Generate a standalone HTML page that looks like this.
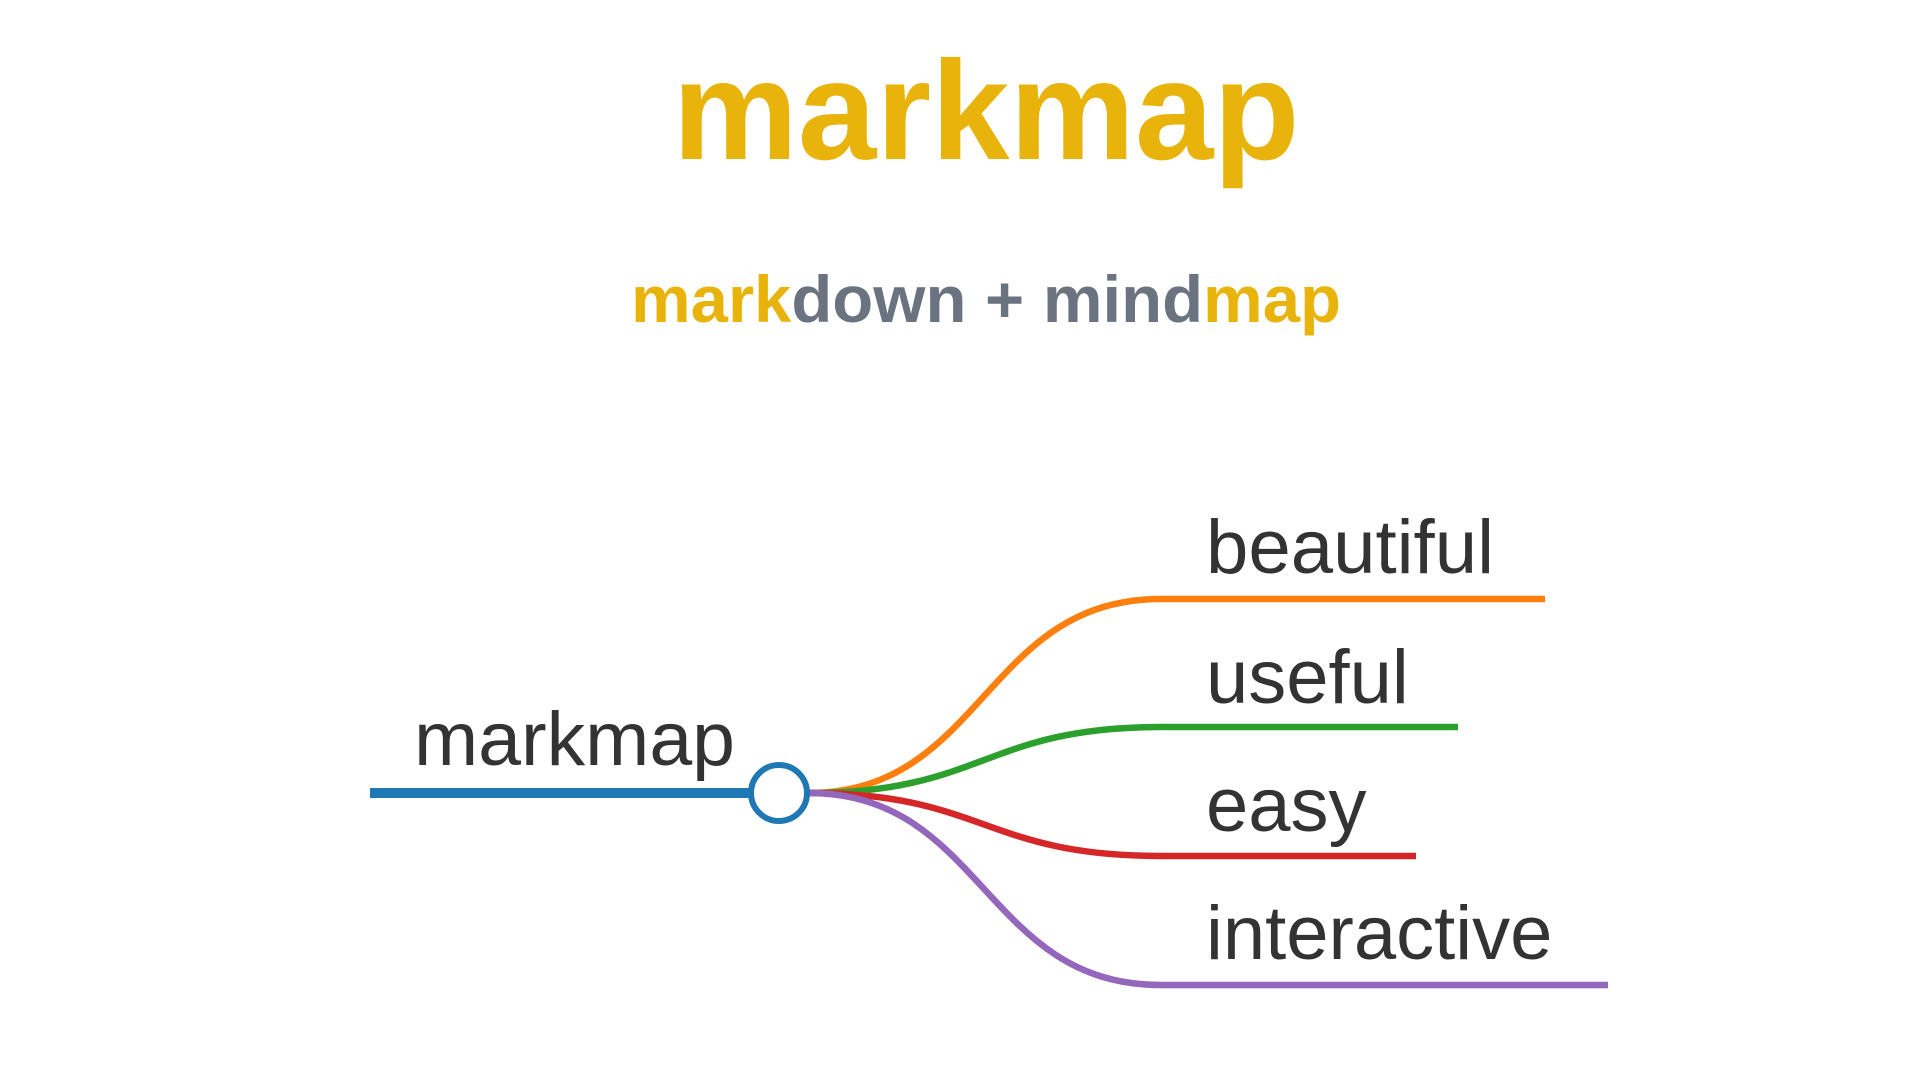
<!DOCTYPE html>
<html><head><meta charset="utf-8"><style>
html,body{margin:0;padding:0;background:#fff;width:1920px;height:1080px;overflow:hidden}
</style></head><body>
<svg width="1920" height="1080" xmlns="http://www.w3.org/2000/svg">
<text x="986" y="159" text-anchor="middle" font-family="Liberation Sans, sans-serif" font-weight="bold" font-size="141" fill="#E8B40B" textLength="627" lengthAdjust="spacingAndGlyphs">markmap</text>
<text x="986" y="322" text-anchor="middle" font-family="Liberation Sans, sans-serif" font-weight="bold" font-size="66" textLength="710" lengthAdjust="spacingAndGlyphs"><tspan fill="#E8B40B">mark</tspan><tspan fill="#6B7280">down + mind</tspan><tspan fill="#E8B40B">map</tspan></text>
<g fill="none" stroke-width="6.5" stroke-linecap="butt">
<path d="M808 793 C984 793 984 599 1161 599 L1545 599" stroke="#FF7F0E"/>
<path d="M808 793 C984 793 984 727 1161 727 L1458 727" stroke="#2CA02C"/>
<path d="M808 793 C984 793 984 856 1161 856 L1416 856" stroke="#D62728"/>
<path d="M808 793 C984 793 984 985 1161 985 L1608 985" stroke="#9467BD"/>
</g>
<line x1="370" y1="793" x2="752" y2="793" stroke="#1F77B4" stroke-width="10"/>
<circle cx="779" cy="793" r="28" fill="#fff" stroke="#1F77B4" stroke-width="6"/>
<g font-family="Liberation Sans, sans-serif" font-size="76" fill="#333">
<text x="414" y="765" textLength="321" lengthAdjust="spacingAndGlyphs">markmap</text>
<text x="1206" y="573" textLength="288" lengthAdjust="spacingAndGlyphs">beautiful</text>
<text x="1206" y="703">useful</text>
<text x="1206" y="831">easy</text>
<text x="1206" y="959">interactive</text>
</g>
</svg>
</body></html>
